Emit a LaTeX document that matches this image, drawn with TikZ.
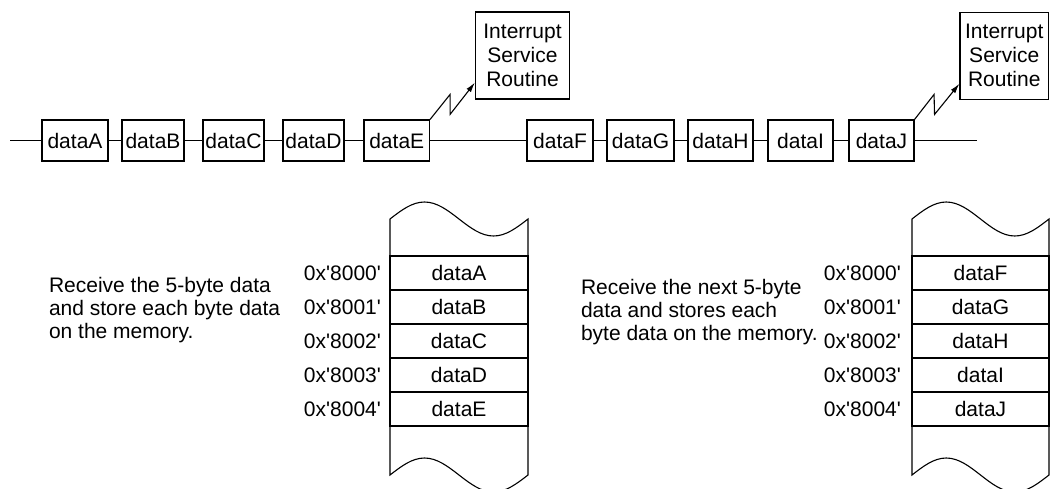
\documentclass[tikz,border=0pt]{standalone}
\usepackage{fontspec}
\setmainfont{Liberation Sans}[Ligatures=TeXOff]
\usetikzlibrary{calc,arrows.meta}
\begin{document}
\begin{tikzpicture}[x=1pt,y=-1pt,line width=1.1pt,
  every node/.style={font=\fontsize{21}{23}\selectfont, inner sep=0pt},
  databox/.style={draw, minimum height=41pt},
  isrbox/.style={draw, align=center, font=\fontsize{21}{24}\selectfont},
  cell/.style={draw, minimum height=34pt},
  addr/.style={anchor=east},
  note/.style={anchor=north west, align=left},
  bolt/.style={-{Latex[length=10pt,width=5.5pt]}}]
\useasboundingbox (0,0) rectangle (1050,488);
\clip (0,0) rectangle (1050,488);

% ---- data stream ----
\node[databox, minimum width=66pt]   (dA) at (75,140.5)    {dataA};
\node[databox, minimum width=62pt]   (dB) at (153,140.5)   {dataB};
\node[databox, minimum width=61pt]   (dC) at (233.5,140.5) {dataC};
\node[databox, minimum width=61pt]   (dD) at (313.5,140.5) {dataD};
\node[databox, minimum width=65.5pt] (dE) at (396.75,140.5) {dataE};
\node[databox, minimum width=66pt]   (dF) at (560,140.5)   {dataF};
\node[databox, minimum width=67pt]   (dG) at (640.5,140.5) {dataG};
\node[databox, minimum width=65pt]   (dH) at (720.5,140.5) {dataH};
\node[databox, minimum width=65pt]   (dI) at (800.5,140.5) {dataI};
\node[databox, minimum width=65pt]   (dJ) at (881.5,140.5) {dataJ};
\coordinate (lstart) at (10,140.5);
\coordinate (lend) at (977,140.5);
\draw (lstart) -- (dA.west) (dA.east) -- (dB.west) (dB.east) -- (dC.west)
      (dC.east) -- (dD.west) (dD.east) -- (dE.west) (dE.east) -- (dF.west)
      (dF.east) -- (dG.west) (dG.east) -- (dH.west) (dH.east) -- (dI.west)
      (dI.east) -- (dJ.west) (dJ.east) -- (lend);

% ---- interrupt service routines ----
\node[isrbox, minimum width=94pt, minimum height=87pt] (isr1) at (522.5,55.5) {Interrupt\\Service\\Routine};
\node[isrbox, minimum width=88.5pt, minimum height=86.5pt] (isr2) at (1004.25,55.85) {Interrupt\\Service\\Routine};
\draw[bolt] (dE.north east) -- ++(20,-25) -- ++(0,20) -- ($(isr1.south west)+(0,-17)$);
\draw[bolt] (dJ.north east) -- ++(19.5,-25) -- ++(0.5,20) -- ($(isr2.south west)+(0,-16)$);

% ---- memory 1 ----
\draw (390,219) sin (424.5,202) cos (459,219) sin (493.5,236) cos (528,219)
      -- (528,475) sin (493.5,492) cos (459,475) sin (424.5,458) cos (390,475) -- cycle;
\node[cell, minimum width=138pt] (m1a) at (459,273) {dataA};
\node[cell, minimum width=138pt] (m1b) at (459,307) {dataB};
\node[cell, minimum width=138pt] (m1c) at (459,341) {dataC};
\node[cell, minimum width=138pt] (m1d) at (459,375) {dataD};
\node[cell, minimum width=138pt] (m1e) at (459,409) {dataE};
\node[addr] (a1a) at ($(m1a.west)+(-8,0)$) {0x'8000'};
\node[addr] (a1b) at ($(m1b.west)+(-8,0)$) {0x'8001'};
\node[addr] (a1c) at ($(m1c.west)+(-8,0)$) {0x'8002'};
\node[addr] (a1d) at ($(m1d.west)+(-8,0)$) {0x'8003'};
\node[addr] (a1e) at ($(m1e.west)+(-8,0)$) {0x'8004'};

% ---- memory 2 ----
\draw (912,219) sin (946.25,202) cos (980.5,219) sin (1014.75,236) cos (1049,219)
      -- (1049,475) sin (1014.75,492) cos (980.5,475) sin (946.25,458) cos (912,475) -- cycle;
\node[cell, minimum width=137pt] (m2a) at (980.5,273) {dataF};
\node[cell, minimum width=137pt] (m2b) at (980.5,307) {dataG};
\node[cell, minimum width=137pt] (m2c) at (980.5,341) {dataH};
\node[cell, minimum width=137pt] (m2d) at (980.5,375) {dataI};
\node[cell, minimum width=137pt] (m2e) at (980.5,409) {dataJ};
\node[addr] (a2a) at ($(m2a.west)+(-10,0)$) {0x'8000'};
\node[addr] (a2b) at ($(m2b.west)+(-10,0)$) {0x'8001'};
\node[addr] (a2c) at ($(m2c.west)+(-10,0)$) {0x'8002'};
\node[addr] (a2d) at ($(m2d.west)+(-10,0)$) {0x'8003'};
\node[addr] (a2e) at ($(m2e.west)+(-10,0)$) {0x'8004'};

% ---- notes ----
\node[note] (t1) at (48.5,277) {Receive the 5-byte data\\and store each byte data\\on the memory.};
\node[note] (t2) at (580.5,278.5) {Receive the next 5-byte\\data and stores each\\byte data on the memory.};
\end{tikzpicture}
\end{document}
